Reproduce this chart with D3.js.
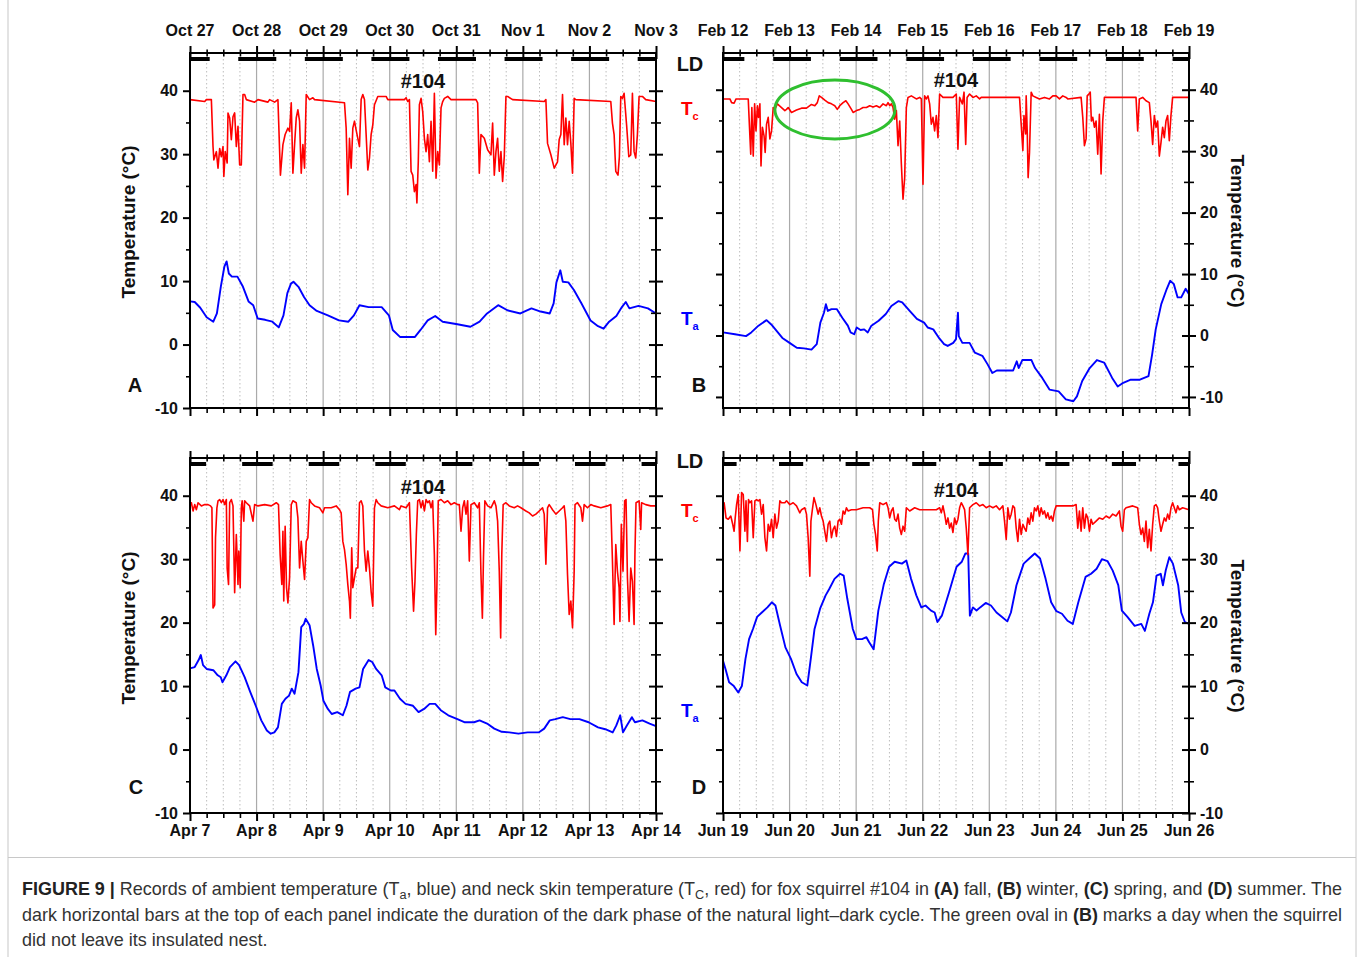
<!DOCTYPE html>
<html>
<head>
<meta charset="utf-8"/>
<title>Fox squirrel #104 temperature records</title>
<script src="https://d3js.org/d3.v7.min.js"></script>
<style>
  body { margin: 0; background: #fff; }
  svg { display: block; }
  text { font-family: "Liberation Sans", Arial, sans-serif; }
</style>
</head>
<body>
<svg width="1362" height="957"></svg>
<script>
// ---- data: [hours since first midnight, deg C] ----
var datesA = ["Oct 27","Oct 28","Oct 29","Oct 30","Oct 31","Nov 1","Nov 2","Nov 3"];
var datesB = ["Feb 12","Feb 13","Feb 14","Feb 15","Feb 16","Feb 17","Feb 18","Feb 19"];
var datesC = ["Apr 7","Apr 8","Apr 9","Apr 10","Apr 11","Apr 12","Apr 13","Apr 14"];
var datesD = ["Jun 19","Jun 20","Jun 21","Jun 22","Jun 23","Jun 24","Jun 25","Jun 26"];

// dark phase: [dusk hour, dawn hour]
var darkA = [17.4, 7.1];
var darkB = [18.1, 7.7];
var darkC = [18.8, 5.8];
var darkD = [20.2, 4.9];

var tcA = [[0,38.6],[5.3,38.3],[5.9,38.6],[7.7,38.6],[8.3,31.2],[8.6,29.1],[9.5,30.4],[10.1,27.8],[10.7,30.9],[11.3,29.6],[11.9,31.2],[12.2,26.5],[12.7,30.4],[13.4,28.6],[13.7,36.5],[14.3,35.7],[14.9,32.3],[15.5,35.9],[16.1,36.5],[16.7,31.2],[17.3,34.4],[17.9,28.3],[18.5,28.3],[19.1,39.4],[19.7,39.4],[20.3,38.6],[23.3,38.2],[24.5,38.6],[28.1,38.2],[28.7,38.6],[30.5,38.2],[31.7,38.6],[32.6,26.7],[33.5,31.5],[34.3,33.1],[35.3,34.1],[35.9,33.6],[36.5,38.1],[37.1,27.0],[37.7,31.5],[38.3,35.7],[38.9,37.0],[39.5,35.2],[40.1,27.0],[40.7,31.5],[41.3,27.8],[41.9,39.4],[43.1,38.6],[44.3,38.9],[44.9,38.6],[55.7,38.1],[56.3,34.1],[56.9,23.6],[57.5,32.5],[58.1,27.8],[58.7,34.1],[59.3,35.2],[59.9,33.8],[60.5,32.5],[61.1,31.2],[61.7,38.6],[62.3,39.4],[62.9,38.6],[63.5,33.1],[64.1,27.5],[64.7,29.4],[65.3,33.1],[65.9,34.6],[66.5,37.8],[67.7,39.1],[70.7,39.1],[71.3,38.6],[77.3,38.6],[77.9,38.9],[78.5,38.3],[79.1,38.6],[79.7,27.3],[80.3,26.7],[80.9,24.1],[81.5,25.2],[81.8,22.3],[82.3,28.8],[82.7,37.8],[83.3,38.8],[83.9,36.7],[84.5,32.5],[85.1,30.4],[85.7,33.1],[86.3,28.8],[86.9,35.2],[87.5,27.3],[88.1,39.6],[88.7,26.2],[89.3,30.4],[89.9,28.3],[90.5,37.3],[91.1,38.3],[91.7,38.8],[92.9,39.1],[94.1,38.6],[103.1,38.6],[103.7,38.1],[104.3,27.0],[104.9,33.1],[106.1,32.5],[107.3,30.7],[108.5,29.9],[109.1,34.9],[109.7,26.7],[110.3,30.4],[110.9,32.5],[111.5,27.3],[112.1,30.4],[112.7,25.7],[113.3,29.6],[113.9,39.1],[114.5,39.1],[116.3,38.6],[127.7,38.3],[128.3,38.6],[128.9,31.7],[130.1,29.9],[131.3,27.8],[132.5,28.8],[133.1,32.3],[133.7,33.1],[134.3,39.4],[134.9,31.5],[135.5,35.7],[136.1,31.5],[136.7,35.2],[137.3,31.7],[137.9,27.0],[138.5,38.8],[139.1,38.6],[151.7,38.3],[152.3,34.9],[152.9,33.1],[153.5,27.3],[154.3,26.7],[154.8,29.6],[155.3,39.1],[155.9,38.8],[156.5,39.6],[157.4,34.6],[158.2,29.6],[158.9,29.9],[159.5,39.6],[160.1,30.4],[160.7,29.4],[161.3,33.1],[161.9,39.1],[163.1,39.1],[164.3,38.6],[168,38.3]];

var taA = [[0,6.8],[1.7,6.7],[3.7,5.8],[6,4.3],[8.4,3.6],[9.7,4.9],[11.1,9.1],[12.4,12.3],[13.2,13.1],[14,11.2],[15.1,10.7],[17.1,10.7],[19.1,9.1],[21.1,6.8],[22.8,6.2],[24.4,4.1],[27.1,3.9],[29.7,3.6],[32,2.7],[33.7,4.6],[35.1,8.1],[36.4,9.6],[37.3,9.9],[39.1,9.1],[41.1,7.5],[43.1,6.2],[45.7,5.3],[49.7,4.6],[53.7,3.8],[57.1,3.6],[59.1,4.6],[61.1,6.2],[64.4,5.9],[69.1,5.9],[71.7,4.6],[73.1,2.3],[75.7,1.2],[81.1,1.2],[83.1,2.3],[85.7,3.8],[88.4,4.5],[91.1,3.6],[96.4,3.2],[101.1,2.8],[104.4,3.6],[107.1,4.9],[111.1,6.2],[114.4,5.4],[119.1,4.9],[123.1,5.7],[126.4,5.2],[129.7,4.9],[131.1,6.5],[132.1,9.8],[133.5,11.7],[134.4,9.9],[136.4,9.8],[138.4,8.6],[141.1,6.5],[144.4,3.8],[147.1,2.9],[149.1,2.5],[151.1,3.6],[153.7,4.5],[155.7,5.9],[157.1,6.7],[158.4,5.7],[161.7,6.1],[165.1,5.7],[168,4.9]];

var tcB = [[0,38.5],[2.5,38.5],[3.1,37.9],[4.0,37.8],[4.7,38.5],[9.1,38.5],[9.5,34.4],[10.0,29.5],[10.4,37.1],[10.9,29.2],[11.4,37.7],[11.9,33.3],[12.4,37.4],[12.8,35.5],[13.3,37.7],[13.7,27.6],[14.2,33.9],[14.8,32.5],[15.2,29.8],[15.7,34.4],[16.3,35.5],[16.9,32.0],[17.5,33.3],[18.1,37.1],[18.7,36.8],[19.6,37.7],[20.3,37.4],[21.1,37.1],[22.3,36.6],[22.9,36.8],[23.5,37.1],[24.7,36.3],[26.5,36.7],[28.3,37.0],[30.1,37.0],[31.9,37.6],[33.1,37.4],[34.0,37.9],[34.7,39.0],[35.5,38.75],[36.7,38.3],[37.9,37.9],[39.1,37.7],[40.3,37.4],[41.2,36.8],[42.1,37.4],[43.3,37.9],[44.3,38.2],[45.1,37.7],[46.3,36.8],[46.9,36.3],[48.1,36.6],[49.3,36.8],[50.5,37.1],[51.7,37.1],[52.9,37.4],[54.1,37.2],[55.3,37.4],[56.5,37.1],[57.7,37.7],[58.9,37.4],[59.5,37.9],[60.1,37.4],[60.7,37.7],[61.3,37.1],[61.9,35.2],[62.5,36.6],[63.1,30.9],[63.7,34.9],[64.3,27.9],[64.9,22.2],[65.5,25.7],[66.1,37.1],[66.7,38.75],[67.9,39.0],[69.7,38.5],[70.9,38.75],[71.5,38.5],[72.1,24.6],[72.7,39.0],[73.3,38.5],[73.9,39.0],[74.5,37.7],[75.1,34.4],[75.7,35.5],[76.3,33.3],[76.9,35.8],[77.5,32.2],[78.1,39.3],[79.3,38.75],[82.9,38.75],[84.1,39.3],[84.7,30.3],[85.3,38.75],[86.3,37.7],[86.9,39.6],[87.5,31.1],[88.0,38.75],[88.9,39.3],[90.1,38.75],[91.3,39.0],[92.5,38.5],[93.1,38.75],[106.9,38.75],[107.5,34.4],[108.1,30.1],[108.5,35.8],[109.1,32.8],[109.3,39.0],[109.7,32.8],[110.0,25.7],[110.5,29.8],[111.1,39.6],[111.7,39.0],[112.9,38.75],[114.1,38.5],[115.9,38.75],[117.7,38.5],[118.9,39.0],[120.1,39.0],[121.3,38.5],[122.5,39.0],[123.7,38.75],[124.3,38.5],[129.1,38.75],[129.7,35.5],[130.3,30.9],[130.9,32.0],[131.3,39.0],[131.9,39.3],[132.4,39.6],[132.8,34.9],[133.3,35.5],[133.9,33.9],[134.5,34.9],[135.1,29.5],[135.7,36.0],[136.3,26.3],[136.9,34.9],[137.5,38.75],[148.9,38.75],[149.5,33.3],[150.1,38.5],[151.3,38.75],[152.5,38.2],[153.7,37.9],[154.3,34.9],[154.9,31.1],[155.5,35.8],[156.1,33.9],[156.7,34.9],[157.3,29.2],[157.9,31.4],[158.5,33.9],[159.1,32.2],[159.7,34.9],[160.3,35.8],[160.9,31.7],[161.5,35.8],[162.1,38.75],[168,38.75]];

var taB = [[0,0.5],[4.3,0.2],[8.3,-0.1],[10.2,0.5],[12.8,1.6],[15.7,2.5],[17.4,1.8],[19.4,0.7],[21.4,-0.4],[24,-1.2],[26.6,-2.0],[29.2,-2.1],[31.9,-2.3],[33.8,-1.4],[35.1,2.1],[36.4,3.7],[37.1,5.1],[37.8,4.0],[39.1,4.3],[41.0,4.3],[43.0,2.9],[45.0,1.6],[46.0,0.5],[47.3,0.2],[48.2,1.3],[49.6,0.9],[50.9,1.0],[52.2,0.5],[53.5,1.6],[56.1,2.4],[58.7,3.5],[60.7,4.8],[63.3,5.6],[64.6,5.4],[67.3,4.0],[69.9,2.7],[72.5,2.1],[73.8,1.3],[75.8,1.0],[77.7,-0.3],[79.7,-1.4],[81.0,-1.7],[83.0,-1.2],[84.0,-0.6],[84.7,3.7],[85.0,-0.1],[86.3,-1.2],[88.9,-1.2],[90.8,-2.8],[93.5,-3.3],[95.4,-4.7],[97.1,-6.1],[98.7,-5.7],[101.3,-5.7],[104.6,-5.7],[105.9,-4.2],[106.6,-5.3],[107.9,-4.0],[111.2,-4.0],[112.5,-5.3],[115.1,-6.9],[117.7,-8.8],[121.0,-9.1],[123.6,-10.4],[126.3,-10.7],[127.6,-9.9],[129.5,-7.4],[132.2,-5.3],[134.8,-4.0],[137.4,-4.4],[140.3,-6.9],[142.3,-8.3],[144.3,-7.7],[147.0,-7.2],[150.3,-7.2],[153.4,-6.6],[154.7,-3.1],[156.0,1.0],[158.0,5.1],[160.0,7.6],[161.2,8.9],[162.5,8.4],[163.9,6.2],[165.2,6.2],[166.8,7.6],[168,6.7]];

var tcC = [[0,38.4],[0.5,38.9],[1.1,37.6],[1.7,38.6],[2.3,37.8],[2.9,38.9],[4.1,38.4],[5.3,38.6],[6.5,38.6],[7.4,38.4],[7.9,38.1],[8.3,22.3],[8.9,22.8],[9.2,33.4],[9.7,38.1],[10.1,39.2],[10.7,39.4],[11.3,38.9],[11.9,39.4],[12.5,38.6],[13.1,39.4],[13.4,28.6],[13.9,26.0],[14.3,38.9],[14.9,39.4],[15.5,38.4],[16.1,24.7],[16.7,33.9],[17.3,26.0],[17.6,31.3],[18.1,25.5],[18.5,38.1],[18.8,39.2],[19.4,36.0],[19.7,39.2],[20.3,38.9],[21.5,38.4],[22.7,36.0],[23.3,38.6],[24.5,38.4],[26.9,38.6],[29.3,38.4],[31.1,38.9],[31.9,38.6],[32.5,30.7],[33.1,26.0],[33.5,34.4],[33.8,23.4],[34.3,35.2],[34.8,25.5],[35.3,23.1],[35.9,27.1],[36.5,38.6],[37.1,39.2],[38.3,38.9],[38.9,36.5],[39.5,28.6],[40.1,32.8],[40.7,29.7],[41.3,26.8],[41.9,32.8],[42.5,33.4],[43.1,39.4],[43.7,38.9],[44.9,38.4],[46.7,38.1],[47.9,37.3],[48.5,38.1],[50.9,38.1],[52.7,38.4],[53.9,37.8],[54.5,37.3],[55.1,32.8],[55.7,31.5],[56.3,29.2],[56.9,26.0],[57.5,23.4],[57.8,20.7],[58.3,31.8],[58.7,25.5],[59.3,27.1],[59.9,28.6],[60.5,28.6],[61.1,38.9],[61.7,39.2],[62.3,38.4],[62.9,31.3],[63.5,28.1],[64.1,31.3],[64.7,28.6],[65.3,24.9],[65.9,22.6],[66.5,38.1],[67.1,39.4],[67.7,38.9],[68.9,38.4],[71.3,38.1],[73.7,38.4],[75.5,37.8],[76.1,38.4],[77.9,38.1],[79.1,38.9],[79.9,28.6],[80.6,21.8],[81.1,26.5],[81.6,33.9],[82.1,39.2],[82.7,39.4],[83.3,38.1],[83.9,39.2],[84.5,37.6],[85.1,39.4],[85.7,38.9],[86.3,39.2],[86.9,38.1],[87.5,39.2],[88.1,30.7],[88.6,18.1],[89.0,25.5],[89.5,39.2],[90.5,39.4],[91.7,38.9],[92.9,39.2],[94.1,38.6],[95.3,38.9],[96.5,38.6],[97.1,38.6],[97.7,34.4],[98.3,38.1],[98.9,39.2],[99.5,37.1],[100.1,39.2],[100.7,29.7],[101.3,38.6],[102.5,38.9],[103.7,38.1],[104.3,38.9],[104.9,27.6],[105.4,20.7],[105.8,30.2],[106.3,39.2],[107.3,38.4],[108.5,38.1],[109.7,39.2],[110.3,38.4],[110.9,36.0],[111.5,28.1],[112.0,17.6],[112.4,30.7],[112.9,38.6],[113.9,38.9],[115.1,38.4],[116.9,38.1],[118.1,38.4],[119.3,38.1],[121.1,37.6],[122.3,37.3],[123.5,36.8],[124.7,37.1],[125.9,37.6],[127.1,38.1],[127.7,37.1],[128.3,29.2],[128.9,38.1],[129.5,38.6],[130.7,37.8],[131.9,37.1],[133.1,37.6],[134.3,38.1],[134.9,38.4],[135.5,36.0],[136.1,27.6],[136.7,21.3],[137.3,23.4],[137.9,19.2],[138.5,28.1],[138.8,38.6],[139.7,38.9],[140.9,38.1],[141.5,36.0],[142.1,38.6],[143.3,38.1],[144.5,38.6],[145.7,38.4],[148.1,38.1],[150.5,38.4],[151.7,38.6],[152.3,29.7],[152.9,19.7],[153.5,32.3],[154.1,28.1],[154.7,25.5],[155.0,20.2],[155.5,35.5],[156.1,28.1],[156.7,39.2],[157.2,39.4],[157.7,27.1],[158.3,20.2],[158.9,28.6],[159.5,26.5],[160.1,19.7],[160.4,30.7],[160.8,38.9],[161.9,39.2],[162.5,34.7],[162.8,38.9],[164.3,38.6],[166.1,38.4],[168,38.4]];

var taC = [[0,12.8],[1.7,13.0],[3.1,14.1],[3.9,14.9],[4.7,13.3],[6.0,12.7],[8.4,12.5],[10.0,11.7],[11.1,11.4],[11.7,10.6],[13.1,11.7],[14.4,13.0],[16.4,13.9],[17.7,13.3],[19.7,11.4],[21.7,9.1],[23.7,6.9],[25.7,4.6],[27.7,3.0],[29.1,2.5],[30.4,2.7],[31.7,3.5],[33.1,7.2],[34.4,8.0],[35.7,8.5],[36.7,9.6],[37.7,8.8],[39.1,12.2],[40.1,19.3],[41.1,19.8],[41.7,20.6],[43.1,19.6],[44.4,16.4],[45.7,12.7],[47.1,10.1],[48.1,7.7],[49.7,6.4],[51.1,5.6],[53.1,5.9],[55.1,5.4],[56.4,6.9],[57.7,9.1],[59.7,9.6],[61.1,9.8],[62.4,12.7],[64.4,14.1],[65.7,13.8],[67.1,12.7],[69.1,11.7],[70.4,9.8],[72.4,9.3],[73.7,9.3],[75.7,8.0],[77.7,7.2],[80.4,6.9],[82.4,5.9],[84.4,6.4],[86.4,7.2],[88.4,7.2],[90.4,6.2],[93.1,5.4],[96.4,4.8],[99.1,4.3],[102.4,4.3],[104.4,4.6],[107.1,4.1],[109.7,3.3],[112.4,2.8],[115.1,2.7],[118.4,2.5],[121.7,2.7],[125.7,2.7],[127.7,3.3],[129.7,4.6],[131.7,4.8],[134.4,5.1],[137.1,4.8],[140.4,4.8],[143.7,4.3],[147.1,3.5],[149.7,3.2],[152.4,2.7],[153.7,3.8],[155.1,5.4],[156.1,2.7],[157.5,3.8],[159.3,5.1],[160.4,4.3],[163.1,4.6],[165.7,4.1],[168,3.7]];

var tcD = [[0,37.6],[0.4,38.9],[1.1,36.5],[1.9,36.3],[2.8,36.8],[3.5,35.5],[4.0,34.4],[4.4,36.5],[4.9,38.6],[5.5,40.2],[6.1,31.3],[6.7,40.5],[7.3,40.2],[7.9,34.4],[8.3,39.2],[8.8,32.8],[9.2,39.4],[9.7,38.9],[10.3,39.2],[10.9,33.4],[11.5,39.2],[12.1,39.4],[12.7,39.2],[13.3,39.4],[13.9,37.1],[14.5,38.6],[15.1,33.4],[15.7,31.3],[16.3,35.5],[16.9,34.4],[17.5,36.3],[18.1,33.4],[18.7,37.1],[19.3,34.9],[19.9,36.0],[20.5,39.2],[21.1,38.9],[22.3,38.9],[22.9,39.2],[24.1,38.6],[25.3,38.9],[26.5,38.4],[27.7,37.3],[28.3,37.8],[29.5,38.1],[30.1,37.1],[30.7,33.4],[31.3,27.3],[31.7,36.0],[32.3,38.1],[32.8,39.7],[33.5,38.6],[34.3,37.1],[34.9,38.1],[35.5,36.8],[36.1,36.0],[36.7,34.4],[37.3,32.8],[37.9,35.5],[38.5,36.0],[39.1,33.4],[39.7,34.7],[40.3,35.2],[40.9,33.6],[41.5,36.0],[42.1,36.3],[42.7,35.5],[43.3,37.6],[43.9,37.1],[44.5,38.1],[45.1,37.6],[46.3,37.8],[48.1,37.8],[50.5,38.1],[52.9,38.1],[53.9,37.8],[54.4,35.5],[55.0,33.9],[55.6,31.3],[56.0,36.0],[56.5,38.9],[57.7,38.6],[58.9,38.9],[59.5,38.1],[60.1,36.5],[60.7,37.6],[61.3,38.1],[61.9,36.3],[62.5,36.0],[63.1,37.1],[63.7,34.9],[64.3,33.9],[64.9,35.2],[65.5,34.4],[66.1,38.1],[67.3,37.6],[69.1,38.1],[70.9,37.8],[73.3,37.8],[75.7,37.8],[76.9,37.8],[78.1,38.1],[78.7,37.3],[79.3,38.4],[79.9,37.1],[80.5,35.5],[81.1,36.5],[81.7,34.9],[82.3,35.7],[82.9,34.2],[83.5,36.5],[84.1,35.5],[84.7,36.3],[85.3,38.1],[85.9,38.9],[86.5,38.4],[87.1,37.8],[87.7,34.9],[88.3,30.7],[88.9,38.1],[90.1,38.6],[91.3,38.9],[92.5,38.4],[93.7,38.6],[94.9,38.1],[96.1,38.4],[97.3,38.1],[98.5,38.4],[99.7,37.8],[100.9,38.4],[101.5,36.0],[102.1,33.1],[102.7,38.1],[103.3,36.3],[103.9,37.1],[104.5,38.4],[105.1,38.1],[105.7,34.9],[106.3,32.8],[106.9,36.3],[107.5,33.9],[108.1,35.5],[108.7,34.9],[109.3,34.4],[109.9,36.5],[110.5,35.5],[111.1,37.3],[111.7,36.0],[112.3,38.1],[112.9,37.6],[113.5,38.4],[114.1,36.8],[114.7,38.1],[115.3,37.1],[115.9,37.6],[116.5,36.5],[117.1,37.3],[117.7,36.3],[118.3,36.8],[118.9,36.0],[119.5,37.6],[120.1,38.4],[121.3,38.4],[123.7,38.4],[126.1,38.4],[127.3,38.6],[127.9,34.9],[128.5,37.6],[129.1,34.4],[129.7,38.1],[130.3,34.9],[130.9,37.1],[131.5,36.5],[132.1,34.4],[132.7,36.3],[133.3,35.5],[134.5,36.0],[135.7,36.5],[136.9,36.3],[138.1,36.8],[139.3,36.5],[140.5,37.1],[141.7,36.8],[142.9,37.6],[143.5,35.2],[144.1,34.4],[144.7,37.8],[145.3,38.1],[147.7,38.4],[149.5,38.1],[150.1,35.5],[150.7,33.9],[151.3,34.9],[151.9,32.8],[152.5,36.0],[153.1,31.8],[153.7,34.7],[154.3,31.3],[154.9,35.5],[155.5,38.4],[156.1,38.6],[156.7,38.1],[157.3,36.0],[157.9,34.4],[158.5,35.5],[159.1,36.5],[159.7,36.0],[160.3,37.1],[160.9,36.3],[161.5,38.1],[162.1,38.9],[162.7,38.1],[163.3,37.3],[163.9,38.4],[164.5,37.8],[165.7,38.1],[168,37.8]];

var taD = [[0,14.0],[0.9,12.7],[2.2,10.6],[3.9,10.0],[5.5,9.0],[6.8,10.0],[8.1,14.3],[9.4,17.4],[10.8,19.0],[12.3,20.9],[14.0,21.6],[16.0,22.4],[17.6,23.2],[18.9,22.7],[20.6,19.5],[22.5,16.1],[24.5,14.3],[26.5,11.9],[28.4,10.6],[30.4,10.1],[31.7,14.5],[33.0,19.0],[35.0,22.2],[37.0,24.3],[38.3,25.3],[40.2,26.9],[42.2,27.7],[43.5,27.4],[44.8,23.8],[46.8,19.0],[48.1,17.4],[50.1,17.4],[51.7,17.7],[52.7,16.9],[54.3,15.8],[56.0,21.9],[58.0,26.1],[59.9,28.8],[61.9,29.6],[64.5,29.3],[66.1,29.8],[67.8,26.9],[69.7,24.3],[71.5,22.4],[73.0,22.7],[75.0,21.9],[76.3,21.6],[77.3,20.1],[78.9,21.1],[81.5,24.8],[84.2,28.8],[86.1,29.6],[87.4,30.9],[88.4,30.9],[89.0,21.1],[90.1,22.4],[91.4,21.9],[92.7,22.4],[94.7,23.1],[96.6,22.7],[98.6,21.6],[100.6,20.9],[102.5,20.2],[103.8,21.6],[105.8,25.9],[108.4,29.3],[110.4,30.1],[112.4,30.9],[114.3,30.1],[116.3,26.9],[118.3,23.2],[120.2,21.8],[122.2,21.4],[124.2,20.3],[126.1,19.8],[128.1,23.2],[130.7,27.2],[132.7,27.7],[134.7,28.5],[136.6,30.0],[138.6,29.7],[140.5,28.2],[142.5,25.9],[143.8,21.9],[145.8,20.9],[148.4,19.5],[150.8,19.8],[152.1,18.7],[153.7,21.4],[155.0,23.2],[156.3,27.4],[157.8,27.7],[158.6,25.9],[159.6,28.2],[160.9,30.3],[162.2,29.3],[164.1,25.9],[165.2,21.6],[166.5,20.1],[168,19.8]];

// green oval in B: [hour from, hour to, temp low, temp high]
var ovalB = [18.7, 62.0, 32.0, 41.6];

var yMajor = [-10, 0, 10, 20, 30, 40];
var yMinor = [-5, 5, 15, 25, 35];

// ---- drawing ----
var svg = d3.select("svg");
var FONT = '"Liberation Sans", Arial, sans-serif';

// page frame
svg.append("rect").attr("x", 8).attr("y", -2).attr("width", 1348).attr("height", 961)
  .attr("fill", "none").attr("stroke", "#c8c8c8").attr("stroke-width", 1);
svg.append("line").attr("x1", 8).attr("x2", 1356).attr("y1", 857.5).attr("y2", 857.5)
  .attr("stroke", "#c8c8c8").attr("stroke-width", 1);

var panels = [
  {name: "A", tc: tcA, ta: taA, dark: darkA, dates: datesA, left: 190, right: 656, top: 59, bottom: 408, dom: [-10, 45], datesOnTop: true,  leftLabels: true,  letterX: 135, letterY: 392, titleY: 222, numY: 88},
  {name: "B", tc: tcB, ta: taB, dark: darkB, dates: datesB, left: 723, right: 1189, top: 59, bottom: 408, dom: [-11.8, 45], datesOnTop: true, leftLabels: false, letterX: 699, letterY: 392, titleY: 231, numY: 87},
  {name: "C", tc: tcC, ta: taC, dark: darkC, dates: datesC, left: 190, right: 656, top: 464, bottom: 813, dom: [-10, 45], datesOnTop: false, leftLabels: true,  letterX: 136, letterY: 794, titleY: 628, numY: 494},
  {name: "D", tc: tcD, ta: taD, dark: darkD, dates: datesD, left: 723, right: 1189, top: 464, bottom: 813, dom: [-10, 45], datesOnTop: false, leftLabels: false, letterX: 699, letterY: 794, titleY: 636, numY: 497}
];

panels.forEach(drawPanel);

function styleAxis(g) {
  g.select(".domain").remove();
  g.selectAll(".tick line").attr("stroke", "#000");
  g.selectAll(".tick text").attr("font-family", FONT).attr("font-size", 16)
    .attr("font-weight", "bold").attr("fill", "#111");
}

function drawPanel(p) {
  var x = d3.scaleLinear().domain([0, 168]).range([p.left, p.right]);
  var y = d3.scaleLinear().domain(p.dom).range([p.bottom, p.top]);
  var g = svg.append("g");
  var dayHours = d3.range(0, 8).map(function(d) { return d * 24; });
  var quarterHours = d3.range(0, 169, 6).filter(function(h) { return h % 24 !== 0; });
  var axTop = p.top - 6;

  // grid: dotted every 6 h, solid gray at midnight
  g.selectAll(".gq").data(quarterHours).enter().append("line")
    .attr("x1", function(d) { return x(d); }).attr("x2", function(d) { return x(d); })
    .attr("y1", p.top).attr("y2", p.bottom)
    .attr("stroke", "#bdbdbd").attr("stroke-width", 1).attr("stroke-dasharray", "1.5,2.5");
  g.selectAll(".gd").data(dayHours.slice(1, 7)).enter().append("line")
    .attr("x1", function(d) { return x(d); }).attr("x2", function(d) { return x(d); })
    .attr("y1", p.top).attr("y2", p.bottom)
    .attr("stroke", "#aaaaaa").attr("stroke-width", 1.2);

  // dark-phase bars
  var bars = [];
  for (var d = -1; d < 7; d++) {
    var s = Math.max(d * 24 + p.dark[0], 0), e = Math.min((d + 1) * 24 + p.dark[1], 168);
    if (e > s) bars.push([s, e]);
  }
  g.selectAll(".ld").data(bars).enter().append("rect")
    .attr("x", function(b) { return x(b[0]); }).attr("width", function(b) { return x(b[1]) - x(b[0]); })
    .attr("y", p.top - 2).attr("height", 4).attr("fill", "#000");

  // series
  var line = d3.line().x(function(d) { return x(d[0]); }).y(function(d) { return y(d[1]); });
  g.append("path").datum(p.ta).attr("d", line).attr("fill", "none")
    .attr("stroke", "#0000ff").attr("stroke-width", 1.9).attr("stroke-linejoin", "round");
  g.append("path").datum(p.tc).attr("d", line).attr("fill", "none")
    .attr("stroke", "#ff0000").attr("stroke-width", 1.6).attr("stroke-linejoin", "round");

  // axis lines
  [p.left, p.right].forEach(function(xx) {
    g.append("line").attr("x1", xx).attr("x2", xx).attr("y1", axTop).attr("y2", p.bottom + 1)
      .attr("stroke", "#000").attr("stroke-width", 2);
  });
  g.append("line").attr("x1", p.left - 1).attr("x2", p.right + 1).attr("y1", axTop).attr("y2", axTop)
    .attr("stroke", "#000").attr("stroke-width", 2);
  g.append("line").attr("x1", p.left - 1).attr("x2", p.right + 1).attr("y1", p.bottom).attr("y2", p.bottom)
    .attr("stroke", "#000").attr("stroke-width", 2);

  // top ticks (crossing)
  var gt = g.append("g").attr("transform", "translate(0," + axTop + ")")
    .call(d3.axisTop(x).tickValues(dayHours).tickSize(7).tickSizeOuter(0).tickFormat(""));
  styleAxis(gt); gt.selectAll(".tick line").attr("y1", 6).attr("stroke-width", 2);
  var gtm = g.append("g").attr("transform", "translate(0," + axTop + ")")
    .call(d3.axisTop(x).tickValues(quarterHours).tickSize(3.5).tickSizeOuter(0).tickFormat(""));
  styleAxis(gtm); gtm.selectAll(".tick line").attr("y1", 3.5).attr("stroke-width", 1.6);

  // bottom ticks
  var gb = g.append("g").attr("transform", "translate(0," + p.bottom + ")")
    .call(d3.axisBottom(x).tickValues(dayHours).tickSize(8).tickSizeOuter(0).tickFormat(""));
  styleAxis(gb); gb.selectAll(".tick line").attr("stroke-width", 2);
  var gbm = g.append("g").attr("transform", "translate(0," + p.bottom + ")")
    .call(d3.axisBottom(x).tickValues(quarterHours).tickSize(5).tickSizeOuter(0).tickFormat(""));
  styleAxis(gbm); gbm.selectAll(".tick line").attr("stroke-width", 1.6);

  // date labels
  g.selectAll(".date").data(p.dates).enter().append("text")
    .attr("x", function(d, i) { return x(dayHours[i]); })
    .attr("y", p.datesOnTop ? axTop - 17 : p.bottom + 23)
    .attr("text-anchor", "middle").attr("font-family", FONT).attr("font-size", 16)
    .attr("font-weight", "bold").attr("fill", "#111").text(function(d) { return d; });

  // left axis
  var gl = g.append("g").attr("transform", "translate(" + p.left + ",0)")
    .call(d3.axisLeft(y).tickValues(yMajor).tickSize(7).tickSizeOuter(0).tickPadding(5)
      .tickFormat(p.leftLabels ? function(v) { return String(v); } : ""));
  styleAxis(gl); gl.selectAll(".tick line").attr("stroke-width", 2);
  var glm = g.append("g").attr("transform", "translate(" + p.left + ",0)")
    .call(d3.axisLeft(y).tickValues(yMinor).tickSize(4).tickSizeOuter(0).tickFormat(""));
  styleAxis(glm); glm.selectAll(".tick line").attr("stroke-width", 1.6);

  // right axis (crossing ticks)
  var gr = g.append("g").attr("transform", "translate(" + p.right + ",0)")
    .call(d3.axisRight(y).tickValues(yMajor).tickSize(7).tickSizeOuter(0).tickPadding(4)
      .tickFormat(p.leftLabels ? "" : function(v) { return String(v); }));
  styleAxis(gr); gr.selectAll(".tick line").attr("x1", -7).attr("stroke-width", 2);
  var grm = g.append("g").attr("transform", "translate(" + p.right + ",0)")
    .call(d3.axisRight(y).tickValues(yMinor).tickSize(5).tickSizeOuter(0).tickFormat(""));
  styleAxis(grm); grm.selectAll(".tick line").attr("x1", -5).attr("stroke-width", 1.6);

  // axis title
  var tx = p.leftLabels ? 128 : 1238;
  g.append("text").attr("transform", "translate(" + tx + "," + p.titleY + ") rotate(" + (p.leftLabels ? -90 : 90) + ")")
    .attr("text-anchor", "middle").attr("dy", "0.35em")
    .attr("font-family", FONT).attr("font-size", 19).attr("font-weight", "bold").attr("fill", "#111")
    .text("Temperature (°C)");

  // panel id and animal number
  g.append("text").attr("x", (p.left + p.right) / 2).attr("y", p.numY).attr("text-anchor", "middle")
    .attr("font-family", FONT).attr("font-size", 20).attr("font-weight", "bold").attr("fill", "#111").text("#104");
  g.append("text").attr("x", p.letterX).attr("y", p.letterY).attr("text-anchor", "middle")
    .attr("font-family", FONT).attr("font-size", 20).attr("font-weight", "bold").attr("fill", "#111").text(p.name);

  if (p.name === "B") {
    g.append("ellipse")
      .attr("cx", (x(ovalB[0]) + x(ovalB[1])) / 2).attr("cy", (y(ovalB[2]) + y(ovalB[3])) / 2)
      .attr("rx", (x(ovalB[1]) - x(ovalB[0])) / 2).attr("ry", (y(ovalB[2]) - y(ovalB[3])) / 2)
      .attr("fill", "none").attr("stroke", "#2fbf2f").attr("stroke-width", 3);
  }
}

// labels between panels
function seriesLabel(xx, yy, sub, color) {
  var t = svg.append("text").attr("x", xx).attr("y", yy).attr("font-family", FONT)
    .attr("font-weight", "bold").attr("fill", color);
  t.append("tspan").attr("font-size", 19).text("T");
  t.append("tspan").attr("font-size", 11).attr("dy", 5).text(sub);
}
[[64, 108, 318], [461, 510, 710]].forEach(function(r) {
  svg.append("text").attr("x", 690).attr("y", r[0] + 7).attr("text-anchor", "middle")
    .attr("font-family", FONT).attr("font-size", 20).attr("font-weight", "bold").attr("fill", "#111").text("LD");
  seriesLabel(681, r[1] + 7, "c", "#ff0000");
  seriesLabel(681, r[2] + 7, "a", "#0000ff");
});

// caption
var capLines = [
  [["b", "FIGURE 9 | "], ["", "Records of ambient temperature (T"], ["s", "a"], ["", ", blue) and neck skin temperature (T"], ["s", "C"], ["", ", red) for fox squirrel #104 in "], ["b", "(A)"], ["", " fall, "], ["b", "(B)"], ["", " winter, "], ["b", "(C)"], ["", " spring, and "], ["b", "(D)"], ["", " summer. The"]],
  [["", "dark horizontal bars at the top of each panel indicate the duration of the dark phase of the natural light–dark cycle. The green oval in "], ["b", "(B)"], ["", " marks a day when the squirrel"]],
  [["", "did not leave its insulated nest."]]
];
var capY = [895, 921, 946];
var capText = capLines.map(function(parts, i) {
  var t = svg.append("text").attr("x", 22).attr("y", capY[i]).attr("font-family", FONT)
    .attr("font-size", 17).attr("fill", "#333");
  parts.forEach(function(pt) {
    var ts = t.append("tspan").text(pt[1]);
    if (pt[0] === "b") ts.attr("font-weight", "bold").attr("fill", "#222");
    if (pt[0] === "s") { ts.attr("font-size", 12).attr("dy", 4); }
  });
  // undo subscript shifts
  t.selectAll("tspan").each(function(d, k) {
    if (k > 0 && parts[k - 1][0] === "s") d3.select(this).attr("dy", -4);
  });
  return t;
});
var w0 = capText[0].node().getComputedTextLength();
var k = 1320 / w0;
capText.forEach(function(t) { t.attr("font-size", 17 * k); t.selectAll("tspan").filter(function() { return d3.select(this).attr("font-size") === "12"; }).attr("font-size", 12 * k); });
capText[0].attr("textLength", 1320).attr("lengthAdjust", "spacingAndGlyphs");
capText[1].attr("textLength", 1320).attr("lengthAdjust", "spacingAndGlyphs");
</script>
</body>
</html>
